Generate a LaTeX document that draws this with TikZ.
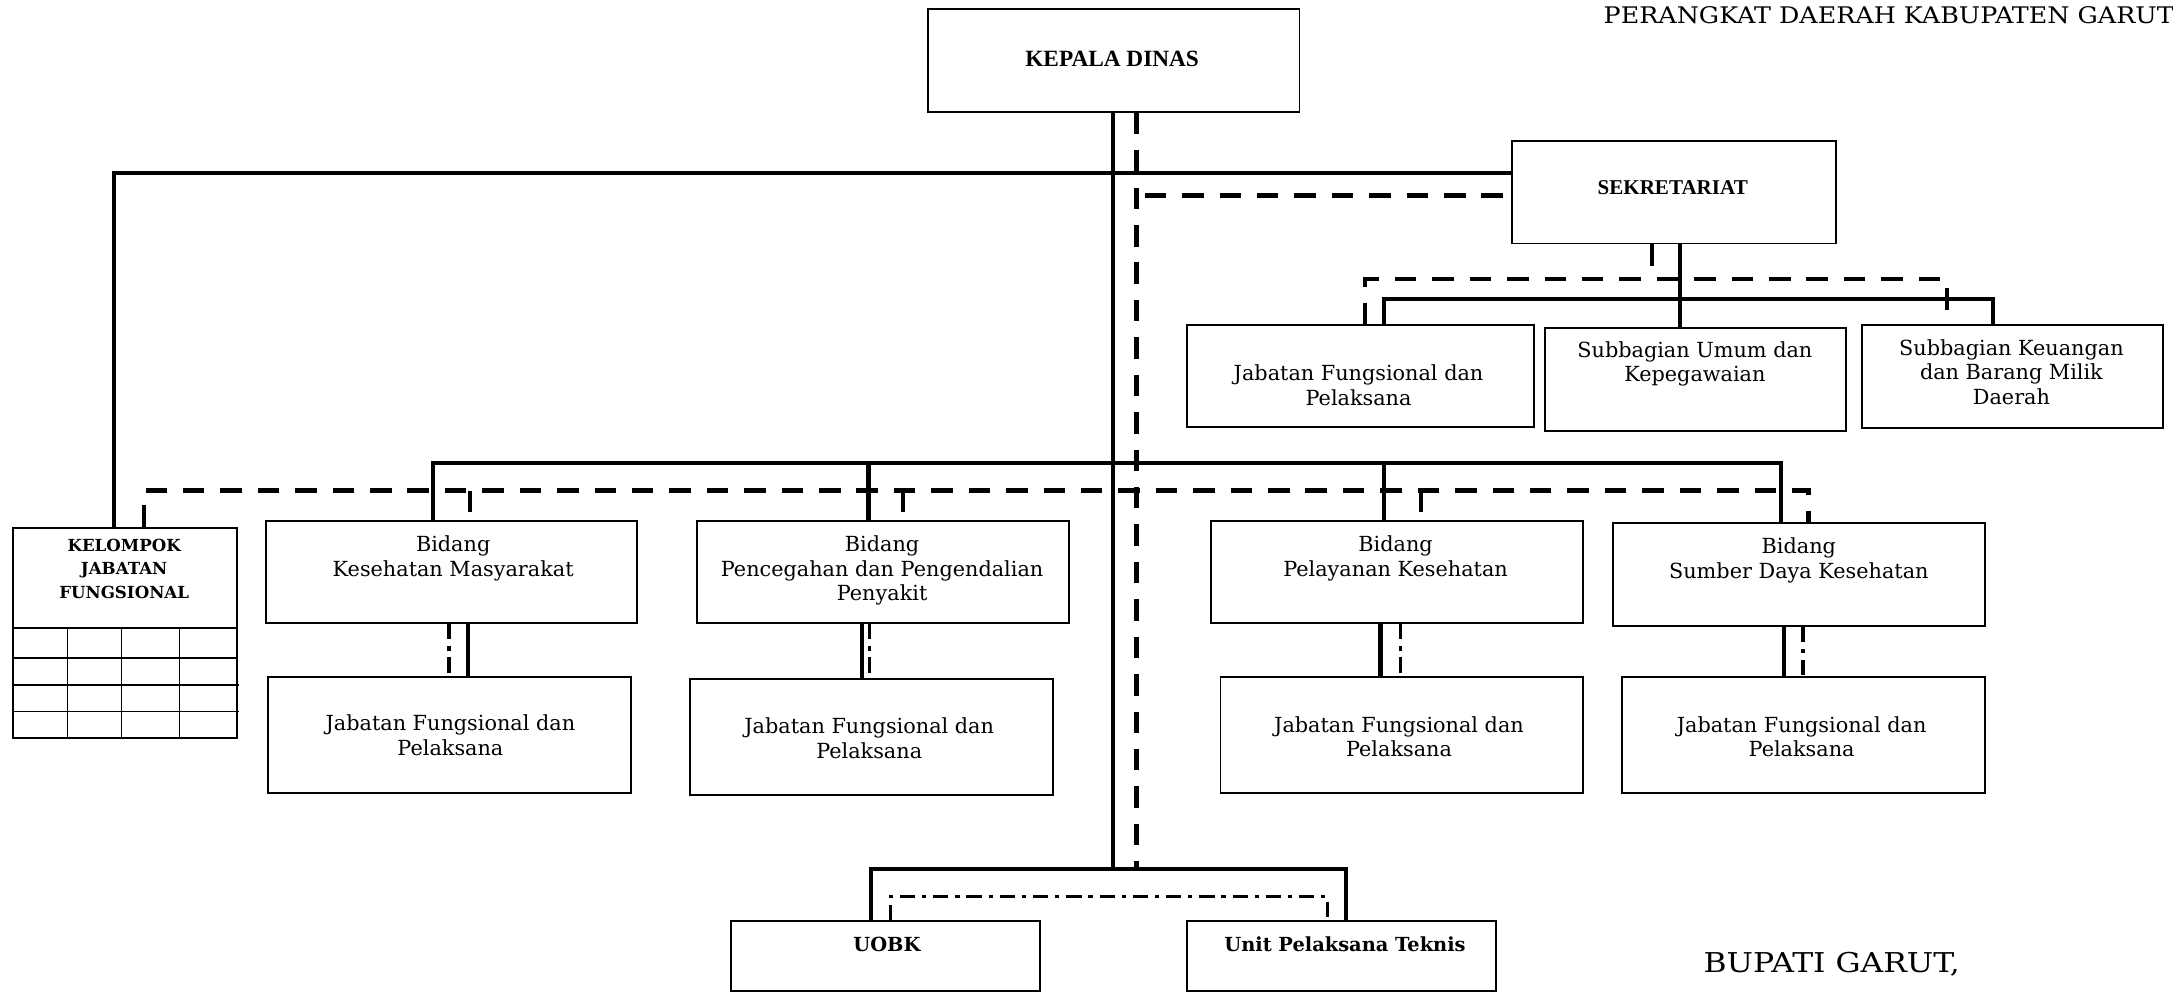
\documentclass[tikz,border=0pt]{standalone}
\usepackage{fontspec}
\setmainfont{DejaVu Serif}
\newfontfamily\titlefont{Liberation Serif}
\newfontfamily\widefont{DejaVu Serif}[FakeStretch=1.15]
\newfontfamily\headfont{DejaVu Serif}[FakeStretch=1.11]
% centred multi-line label whose baseline is that of its first line
\newcommand\stack[1]{\begin{tabular}[t]{@{}c@{}}#1\end{tabular}}

\begin{document}
\begin{tikzpicture}[x=1pt,y=-1pt,line join=miter,
  box/.style={draw, line width=1.4pt, inner sep=0pt, anchor=north west},
  lbl/.style={inner sep=0pt, anchor=base, font=\fontsize{15}{17.8}\selectfont},
  conn/.style={line width=3pt},
  dconn/.style={line width=3.2pt, dash pattern=on 15.5pt off 11.5pt},
  ddot/.style={line width=2.2pt, dash pattern=on 11pt off 5pt on 3pt off 5pt},
  gridl/.style={line width=1.2pt}]

\useasboundingbox (0,0) rectangle (1568,720);
\fill[white] (0,0) rectangle (1568,720);

% ---------- boxes ----------
\node[box, minimum width=268pt,   minimum height=74pt]   (kd)     at (669,6)      {};
\node[box, minimum width=233.5pt, minimum height=74pt]   (sek)    at (1090.5,101) {};
\node[box, minimum width=250pt,   minimum height=73.5pt] (jfs)    at (856,234)    {};
\node[box, minimum width=217.5pt, minimum height=74pt]   (sumum)  at (1114,236)   {};
\node[box, minimum width=217pt,   minimum height=74pt]   (ku)     at (1343,234)   {};
\node[box, minimum width=161pt,   minimum height=151.6pt](kjf)    at (9,380)      {};
\node[box, minimum width=268pt,   minimum height=74pt]   (kesmas) at (191,375)    {};
\node[box, minimum width=268.5pt, minimum height=74pt]   (p2p)    at (502,375)    {};
\node[box, minimum width=268.5pt, minimum height=74pt]   (yankes) at (873,375)    {};
\node[box, minimum width=268pt,   minimum height=74pt]   (sdk)    at (1163.5,377) {};
\node[box, minimum width=262pt,   minimum height=83.8pt] (jf1)    at (192.5,487.5){};
\node[box, minimum width=262.3pt, minimum height=84.2pt] (jf2)    at (497,489)    {};
\node[box, minimum width=261.5pt, minimum height=83.8pt] (jf3)    at (880,487.5)  {};
\node[box, minimum width=261.7pt, minimum height=83.8pt] (jf4)    at (1170,487.5) {};
\node[box, minimum width=223.1pt, minimum height=50.4pt] (uobk)   at (526.5,664)  {};
\node[box, minimum width=223.5pt, minimum height=50.4pt] (upt)    at (855.5,664)  {};

% grid of the Kelompok Jabatan Fungsional box
\draw[line width=1.4pt] (9,453.4) -- (170,453.4);
\draw[gridl] (9,474.6) -- (170,474.6) (9,494.3) -- (172.5,494.3) (9,513.5) -- (172.5,513.5);
\draw[gridl] (48.6,453.4) -- (48.6,531.6) (87.6,453.4) -- (87.6,531.6) (129.6,453.4) -- (129.6,531.6);

% ---------- texts ----------
\node[lbl, font=\titlefont\bfseries\fontsize{16.8}{20}\selectfont] (kd-t)  at (802.5,48.1)  {KEPALA DINAS};
\node[lbl, font=\titlefont\bfseries\fontsize{15.2}{18}\selectfont] (sek-t) at (1207,140.7)  {SEKRETARIAT};
\node[lbl] (jfs-t)    at (980.3,274.7) {\stack{Jabatan Fungsional dan\\Pelaksana}};
\node[lbl] (sumum-t)  at (1223,257.8)  {\stack{Subbagian Umum dan\\Kepegawaian}};
\node[lbl] (ku-t)     at (1451.4,256.2){\stack{Subbagian Keuangan\\dan Barang Milik\\Daerah}};
\node[lbl, font=\bfseries\fontsize{12}{16.8}\selectfont] (kjf-t) at (89.6,398) {\stack{KELOMPOK\\JABATAN\\FUNGSIONAL}};
\node[lbl] (kesmas-t) at (327,398)     {\stack{Bidang\\Kesehatan Masyarakat}};
\node[lbl] (p2p-t)    at (636.5,398)   {\stack{Bidang\\Pencegahan dan Pengendalian\\Penyakit}};
\node[lbl] (yankes-t) at (1007,398)    {\stack{Bidang\\Pelayanan Kesehatan}};
\node[lbl] (sdk-t)    at (1298,399.3)  {\stack{Bidang\\Sumber Daya Kesehatan}};
\node[lbl] (jf1-t)    at (325,527)     {\stack{Jabatan Fungsional dan\\Pelaksana}};
\node[lbl] (jf2-t)    at (627.2,529.2) {\stack{Jabatan Fungsional dan\\Pelaksana}};
\node[lbl] (jf3-t)    at (1009.5,528.4){\stack{Jabatan Fungsional dan\\Pelaksana}};
\node[lbl] (jf4-t)    at (1300,528.4)  {\stack{Jabatan Fungsional dan\\Pelaksana}};
\node[lbl, font=\bfseries\fontsize{14}{17}\selectfont] (uobk-t) at (640,686.7)   {UOBK};
\node[lbl, font=\bfseries\fontsize{14}{17}\selectfont] (upt-t)  at (970.5,686.7) {Unit Pelaksana Teknis};
\node[inner sep=0pt, anchor=base west, font=\headfont\fontsize{16.5}{20}\selectfont] (hdr) at (1157,16.8) {PERANGKAT DAERAH KABUPATEN GARUT};
\node[inner sep=0pt, anchor=base west, font=\widefont\fontsize{19.7}{24}\selectfont] (bup) at (1229,702) {BUPATI GARUT,};

% ---------- helper positions ----------
\coordinate (xs)  at (803,0);    \coordinate (xd)  at (820,0);
\coordinate (xk)  at (82.5,0);   \coordinate (yT)  at (0,125);
\coordinate (yDs) at (0,141);
\coordinate (xsk) at (1212,0);   \coordinate (xsd) at (1192,0);
\coordinate (ySb) at (0,215.5);  \coordinate (ySd) at (0,201.5);
\coordinate (xa)  at (998.6,0);  \coordinate (xb)  at (1438,0);
\coordinate (xc)  at (985,0);    \coordinate (xe)  at (1405,0);
\coordinate (yB)  at (0,334.3);  \coordinate (yBd) at (0,354);
\coordinate (x1)  at (312.4,0);  \coordinate (x2)  at (626.7,0);
\coordinate (x3)  at (998.6,0);  \coordinate (x4)  at (1285,0);
\coordinate (d0)  at (104,0);    \coordinate (d1)  at (339.2,0);
\coordinate (d2)  at (651.5,0);  \coordinate (d3)  at (1025.3,0);
\coordinate (d4)  at (1305,0);
\coordinate (s1)  at (337.6,0);  \coordinate (t1)  at (324,0);
\coordinate (s2)  at (621.7,0);  \coordinate (t2)  at (627.7,0);
\coordinate (s3)  at (996.1,0);  \coordinate (t3)  at (1010.7,0);
\coordinate (s4)  at (1287.4,0); \coordinate (t4)  at (1301,0);
\coordinate (yU)  at (0,627);    \coordinate (yUd) at (0,647);
\coordinate (u1)  at (628.5,0);  \coordinate (u2)  at (971.4,0);
\coordinate (v1)  at (642.4,0);  \coordinate (v2)  at (957.6,0);

% ---------- connectors ----------
% main lines from the head of office
\draw[conn]  (kd.south -| xs) -- (xs |- yU);
\draw[dconn] (kd.south -| xd) -- (xd |- yU);

% upper solid line: Kelompok Jabatan Fungsional -- Sekretariat
\draw[conn] (kjf.north -| xk) -- (xk |- yT) -- (sek.west |- yT);
\draw[dconn, dash phase=21pt] (xd |- yDs) -- (sek.west |- yDs);

% Sekretariat and its units
\draw[conn]  (sek.south -| xsk) -- (sumum.north -| xsk);
\draw[conn]  (jfs.north -| xa) -- (xa |- ySb) -- (xb |- ySb) -- (ku.north -| xb);
\draw[dconn] (sek.south -| xsd) -- (xsd |- ySd);
\draw[dconn] (jfs.north -| xc) -- (xc |- ySd) -- (xe |- ySd) -- (ku.north -| xe);

% the four Bidang
\draw[conn] (kesmas.north -| x1) -- (x1 |- yB) -- (x4 |- yB) -- (sdk.north -| x4);
\draw[conn] (x2 |- yB) -- (p2p.north -| x2);
\draw[conn] (x3 |- yB) -- (yankes.north -| x3);
\draw[dconn] (kjf.north -| d0) -- (d0 |- yBd) -- (d4 |- yBd) -- (sdk.north -| d4);
\draw[dconn, shorten >=3pt] (d1 |- yBd) -- (kesmas.north -| d1);
\draw[dconn, shorten >=3pt] (d2 |- yBd) -- (p2p.north -| d2);
\draw[dconn, shorten >=3pt] (d3 |- yBd) -- (yankes.north -| d3);

% Bidang to their Jabatan Fungsional dan Pelaksana
\draw[conn] (kesmas.south -| s1) -- (jf1.north -| s1);
\draw[ddot] (kesmas.south -| t1) -- (jf1.north -| t1);
\draw[conn] (p2p.south -| s2) -- (jf2.north -| s2);
\draw[ddot] (p2p.south -| t2) -- (jf2.north -| t2);
\draw[conn] (yankes.south -| s3) -- (jf3.north -| s3);
\draw[ddot] (yankes.south -| t3) -- (jf3.north -| t3);
\draw[conn] (sdk.south -| s4) -- (jf4.north -| s4);
\draw[ddot] (sdk.south -| t4) -- (jf4.north -| t4);

% UOBK and Unit Pelaksana Teknis
\draw[conn] (uobk.north -| u1) -- (u1 |- yU) -- (u2 |- yU) -- (upt.north -| u2);
\draw[ddot] (uobk.north -| v1) -- (v1 |- yUd) -- (v2 |- yUd) -- (upt.north -| v2);
\end{tikzpicture}
\end{document}
